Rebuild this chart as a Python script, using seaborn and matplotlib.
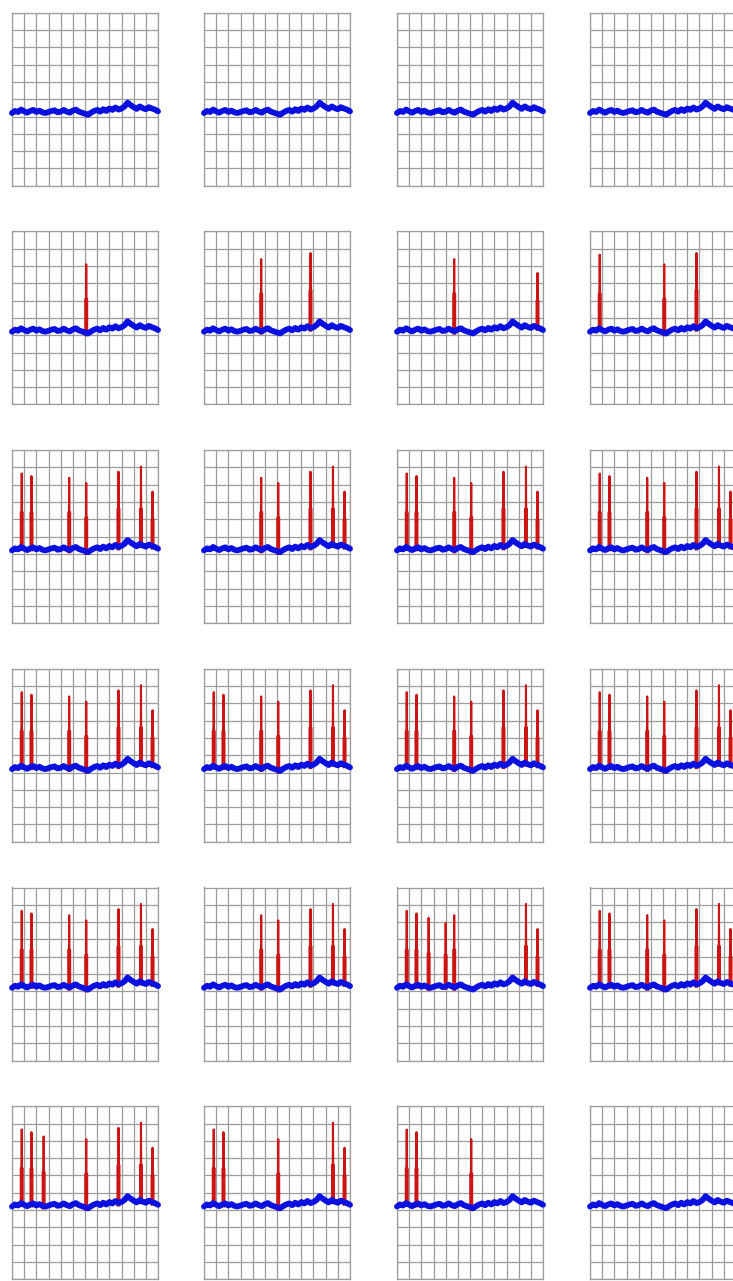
import numpy as np
import pandas as pd
import matplotlib
matplotlib.use("Agg")
import matplotlib.pyplot as plt
import seaborn as sns

sns.set_theme(style="white")

# ---------------- data ----------------
# shared blue baseline trace (x in grid units 0..12, y in grid units)
base_x = [0.00, 0.25, 0.50, 0.75, 1.00, 1.25, 1.50, 1.75, 2.00, 2.25, 2.50, 2.75,
          3.00, 3.25, 3.50, 3.75, 4.00, 4.25, 4.50, 4.75, 5.00, 5.25, 5.50, 5.75,
          6.00, 6.25, 6.50, 6.75, 7.00, 7.25, 7.50, 7.75, 8.00, 8.25, 8.50, 8.75,
          9.00, 9.25, 9.50, 9.75, 10.00, 10.25, 10.50, 10.75, 11.00, 11.25, 11.50,
          11.75, 12.00]
base_y = [0.20, 0.32, 0.26, 0.40, 0.30, 0.22, 0.32, 0.38, 0.26, 0.34, 0.24, 0.20,
          0.26, 0.32, 0.36, 0.24, 0.28, 0.38, 0.28, 0.22, 0.34, 0.40, 0.28, 0.22,
          0.16, 0.10, 0.22, 0.32, 0.38, 0.28, 0.42, 0.32, 0.46, 0.38, 0.52, 0.40,
          0.46, 0.58, 0.80, 0.66, 0.54, 0.44, 0.58, 0.48, 0.42, 0.54, 0.46, 0.40,
          0.30]

# catalogue of red spikes (position, peak height, shoulder height)
spike_ids = ["A", "B", "X", "Y", "C", "D", "E", "F", "G"]
spike_x = [0.80, 1.60, 2.60, 4.00, 4.70, 6.10, 8.75, 10.60, 11.55]
spike_peak = [4.65, 4.50, 4.25, 3.95, 4.40, 4.10, 4.75, 5.05, 3.60]
spike_shoulder = [2.40, 2.40, 2.20, 2.10, 2.40, 2.10, 2.60, 2.60, 2.00]

# which spikes appear in each panel (6 rows x 4 columns)
panel_spikes = [
    ["", "", "", ""],
    ["D", "CE", "CG", "ADE"],
    ["ABCDEFG", "CDEFG", "ABCDEFG", "ABCDEFG"],
    ["ABCDEFG", "ABCDEFG", "ABCDEFG", "ABCDEFG"],
    ["ABCDEFG", "CDEFG", "ABXYCFG", "ABCDEFG"],
    ["ABXDEFG", "ABDFG", "ABD", ""],
]

# ---------------- layout / style ----------------
W, H = 733, 1281
col_left = [12, 204, 397, 590]
row_top = [12.7, 231.4, 450.1, 668.8, 887.5, 1106.2]
pw, ph = 146, 173
grid_col = "#9c9c9c"
blue = "#0a10e0"
red = "#cc1414"
half_w = 0.08   # half width of a spike's lower body, grid units
tip_w = 0.015   # half width of a spike's tip

spikes = pd.DataFrame({"sid": spike_ids, "x": spike_x,
                       "peak": spike_peak, "shoulder": spike_shoulder}).set_index("sid")


def spike_frame(ids):
    rows = []
    for s in ids:
        r = spikes.loc[s]
        b = float(np.interp(r.x, base_x, base_y)) - 0.15
        pts = [(r.x - half_w, b), (r.x - half_w, r.shoulder),
               (r.x - tip_w, r.shoulder), (r.x, r.peak), (r.x + tip_w, r.shoulder),
               (r.x + half_w, r.shoulder), (r.x + half_w, b)]
        for k, (px, py) in enumerate(pts):
            rows.append({"sid": s, "order": k, "x": px, "y": py})
    return pd.DataFrame(rows)


fig = plt.figure(figsize=(W / 100, H / 100), dpi=100)
fig.patch.set_facecolor("white")

for ri, top in enumerate(row_top):
    for ci, left in enumerate(col_left):
        ax = fig.add_axes([left / W, 1 - (top + ph) / H, pw / W, ph / H])
        ax.set_xlim(0, 12)
        ax.set_ylim(-4, 6)
        ax.set_xticks(range(0, 13))
        ax.set_yticks(range(-4, 7))
        ax.grid(True, color=grid_col, lw=0.9)
        ax.tick_params(length=0, labelbottom=False, labelleft=False)
        for sp in ax.spines.values():
            sp.set_color(grid_col)
            sp.set_linewidth(0.9)
        ax.set_facecolor("white")

        ids = panel_spikes[ri][ci]
        if ids:
            df = spike_frame(ids)
            sns.lineplot(data=df, x="x", y="y", units="sid", estimator=None,
                         sort=False, color=red, lw=1.5, ax=ax, zorder=3)
        sns.lineplot(x=base_x, y=base_y, sort=False, estimator=None, color=blue,
                     lw=4.2, ax=ax, zorder=4, solid_capstyle="round",
                     solid_joinstyle="round", clip_on=False)
        ax.set_xlabel("")
        ax.set_ylabel("")

fig.savefig("out.png", dpi=100, facecolor="white")
